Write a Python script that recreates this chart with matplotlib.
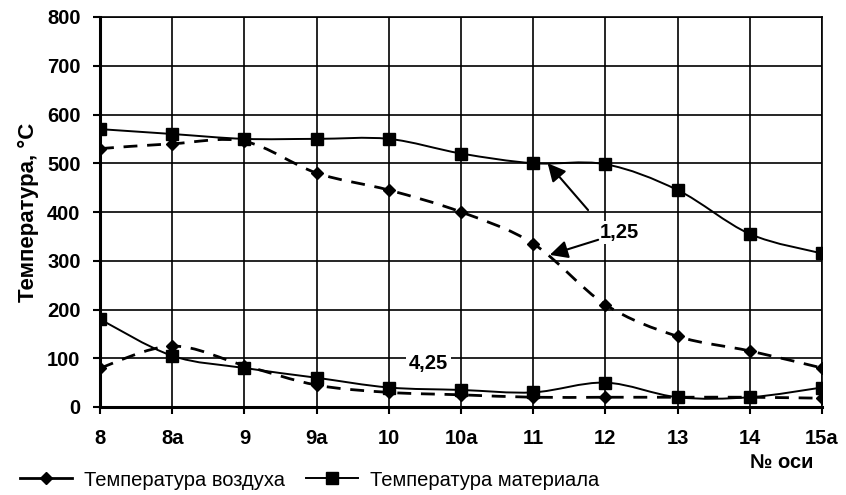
import matplotlib
matplotlib.use("Agg")
import matplotlib.pyplot as plt
from matplotlib.path import Path
from matplotlib.patches import PathPatch
from matplotlib.lines import Line2D
import numpy as np

plt.rcParams['font.family'] = ['Liberation Sans', 'DejaVu Sans']

categories = ["8", "8а", "9", "9а", "10", "10а", "11", "12", "13", "14", "15а"]
air_125 = [530, 540, 545, 480, 445, 400, 335, 210, 145, 115, 80]
mat_125 = [570, 560, 550, 550, 550, 520, 500, 498, 445, 355, 315]
air_425 = [80, 125, 85, 45, 30, 25, 20, 20, 20, 20, 18]
mat_425 = [180, 105, 80, 60, 40, 35, 30, 50, 20, 20, 40]
yticks = [0, 100, 200, 300, 400, 500, 600, 700, 800]

FS = 14.5


def smooth_path(xs, ys, t=1.0 / 6):
    xs = np.asarray(xs, float)
    ys = np.asarray(ys, float)
    n = len(xs)
    verts = [(xs[0], ys[0])]
    codes = [Path.MOVETO]
    for i in range(n - 1):
        p0 = np.array([xs[max(i - 1, 0)], ys[max(i - 1, 0)]])
        p1 = np.array([xs[i], ys[i]])
        p2 = np.array([xs[i + 1], ys[i + 1]])
        p3 = np.array([xs[min(i + 2, n - 1)], ys[min(i + 2, n - 1)]])
        c1 = p1 + (p2 - p0) * t
        c2 = p2 - (p3 - p1) * t
        verts += [tuple(c1), tuple(c2), tuple(p2)]
        codes += [Path.CURVE4] * 3
    return Path(verts, codes)


fig = plt.figure(figsize=(8.46, 4.95), dpi=100)
ax = fig.add_axes([100 / 846, 1 - 407 / 495, 722 / 846, 390 / 495])
x = np.arange(len(categories))

dash = (0, (5, 3.5))
for ys, ls in [(air_125, dash), (air_425, dash), (mat_125, '-'), (mat_425, '-')]:
    lw = 2.0 if ls != '-' else 1.4
    ax.add_patch(PathPatch(smooth_path(x, ys), facecolor='none', edgecolor='black',
                           linewidth=lw, linestyle=ls, zorder=3))

for ys in (air_125, air_425):
    ax.plot(x, ys, linestyle='none', marker='D', markersize=6.5, color='black', zorder=4)
for ys in (mat_125, mat_425):
    ax.plot(x, ys, linestyle='none', marker='s', markersize=8.5, color='black', zorder=4)

ax.set_xlim(0, len(categories) - 1)
ax.set_ylim(0, 800)
ax.set_xticks(x)
ax.set_xticklabels(categories, fontsize=FS, fontweight='bold')
ax.set_yticks(yticks)
ax.set_yticklabels([str(v) for v in yticks], fontsize=FS, fontweight='bold')
ax.tick_params(axis='both', direction='out', length=5, width=1.5, color='black')
ax.tick_params(axis='y', pad=9)
ax.tick_params(axis='x', pad=11)
ax.grid(True, color='black', linewidth=1.2)
ax.set_axisbelow(True)
for s in ax.spines.values():
    s.set_linewidth(1.2)
ax.spines['left'].set_linewidth(2.2)
ax.spines['bottom'].set_linewidth(2.2)

ax.set_ylabel("Температура, °С", fontsize=16, fontweight='bold')
ax.yaxis.set_label_coords(-0.085, 0.5)
fig.text(782 / 846, 1 - 462 / 495, "№ оси", fontsize=FS, fontweight='bold', ha='center', va='center')

# annotations
arrow = dict(arrowstyle='-|>,head_length=0.6,head_width=0.3', color='black', lw=1.5,
             mutation_scale=18, shrinkA=0, shrinkB=0)
ax.text(7.2, 357, "1,25", fontsize=FS, fontweight='bold', ha='center', va='center',
        bbox=dict(facecolor='white', edgecolor='none', pad=1.5), zorder=5)
ax.annotate("", xy=(6.2, 500), xytext=(6.76, 404), arrowprops=arrow, zorder=5)
ax.annotate("", xy=(6.23, 312), xytext=(6.9, 343), arrowprops=arrow, zorder=5)
ax.text(4.55, 90, "4,25", fontsize=FS, fontweight='bold', ha='center', va='center',
        bbox=dict(facecolor='white', edgecolor='none', pad=2), zorder=5)

handles = [
    Line2D([], [], color='black', linestyle='-', linewidth=2.0, marker='D', markersize=6.5),
    Line2D([], [], color='black', linestyle='-', linewidth=1.4, marker='s', markersize=8),
]
fig.legend(handles, ["Температура воздуха", "Температура материала"], loc='center left',
           bbox_to_anchor=(16 / 846, 1 - 480 / 495), ncol=2, frameon=False, fontsize=FS,
           handlelength=2.6, columnspacing=1.0, handletextpad=0.6, borderaxespad=0,
           borderpad=0.2)

fig.savefig("out.png", dpi=100)
